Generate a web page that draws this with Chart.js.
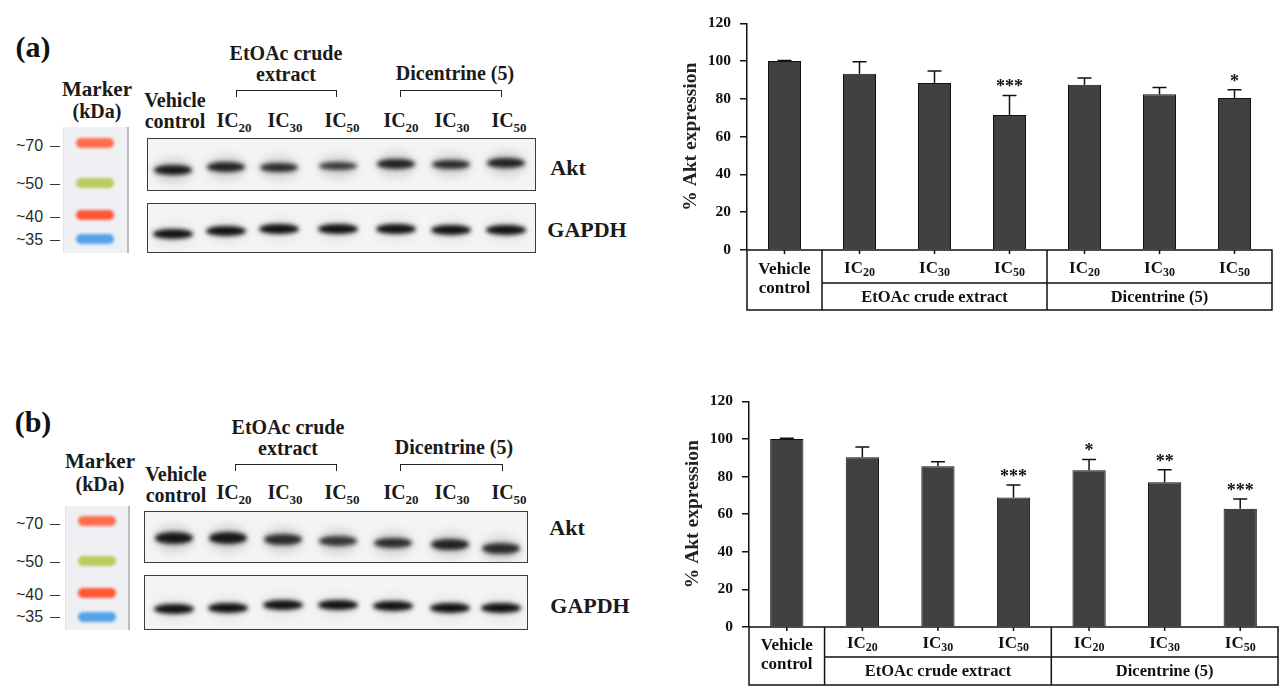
<!DOCTYPE html>
<html>
<head>
<meta charset="utf-8">
<script src="https://cdn.jsdelivr.net/npm/chart.js@4.4.0/dist/chart.umd.min.js"></script>
<style>
  body { margin: 0; width: 1286px; height: 698px; position: relative; overflow: hidden; background: #fff;
         font-family: "Liberation Serif", "DejaVu Serif", serif; color: #1a1a1a; }
  .t { position: absolute; transform: translate(-50%, -50%); white-space: nowrap; line-height: 1; font-weight: bold; }
  .t sub { font-size: 13px; vertical-align: -5px; line-height: 0; }
  .kd { position: absolute; transform: translate(0, -50%); font-family: "Liberation Sans", Arial, sans-serif;
        font-size: 16px; line-height: 1; color: #2a2a2a; }
  .box { position: absolute; border: 1.5px solid #3c3c3c; box-sizing: border-box; overflow: hidden; background: #f4f4f4; }
  .band { position: absolute; border-radius: 50%; }
  .strip { position: absolute; background: #eef0f4; border-right: 2px solid #b9bdc3; border-left: 1px solid #e2e4e8; box-sizing: border-box; }
  .mk { position: absolute; border-radius: 5px; filter: blur(1.6px); }
  .brk { position: absolute; border: 1.4px solid #222; border-bottom: none; box-sizing: border-box; }
  .dash { position: absolute; height: 1.4px; background: #333; }
  canvas { position: absolute; }
</style>
</head>
<body>
<canvas id="chartA" width="600" height="310" style="left:677px; top:5px;"></canvas>
<canvas id="chartB" width="604" height="307" style="left:679px; top:383px;"></canvas>
<script>
// ---- datos ----
const controlLabel = ["Vehicle", "control"];
const groups = ["EtOAc crude extract", "Dicentrine (5)"];
const doses = ["20", "30", "50"];
const categories = ["Vehicle control", "IC20", "IC30", "IC50", "IC20", "IC30", "IC50"];
const yTicks = [0, 20, 40, 60, 80, 100, 120];

// panel (a)
const aktA = [100, 93.3, 88.4, 71.5, 87.5, 82.5, 80.5];
const errA = [0.3, 6.4, 6.3, 10.3, 3.6, 3.5, 4.3];
const starsA = ["", "", "", "***", "", "", "*"];
// panel (b)
const aktB = [100, 90.2, 85.5, 68.8, 83.3, 76.9, 62.9];
const errB = [0.3, 5.5, 2.3, 6.7, 5.8, 6.7, 5.2];
const starsB = ["", "", "", "***", "*", "**", "***"];

const markerKDa = ["~70", "~50", "~40", "~35"];
const markerColors = ["#ff6c4e", "#b9cc5c", "#ff5634", "#55a2e8"];

const serif = '"Liberation Serif", "DejaVu Serif", serif';

// ---- Blot (imagen ilustrativa) ----
function txt(s, x, y, size, extra) {
  const d = document.createElement("div");
  d.className = "t";
  d.innerHTML = s;
  d.style.left = x + "px";
  d.style.top = y + "px";
  d.style.fontSize = size + "px";
  if (extra) Object.assign(d.style, extra);
  document.body.appendChild(d);
  return d;
}
function el(cls, x, y, w, h, parent) {
  const d = document.createElement("div");
  d.className = cls;
  Object.assign(d.style, { left: x + "px", top: y + "px", width: w + "px", height: h + "px" });
  (parent || document.body).appendChild(d);
  return d;
}
function band(box, org, cx, cy, w, h, strength, smear) {
  const bx = org[0], by = org[1];
  // halo claro
  const halo = el("band", cx - bx - w / 2 - 1, cy - by - h / 2 - 7, w + 2, h + 15, box);
  halo.style.background = "rgba(0,0,0," + (0.13 * smear) + ")";
  halo.style.filter = "blur(4px)";
  const core = el("band", cx - bx - w / 2, cy - by - h / 2, w, h, box);
  core.style.background = "rgba(14,14,14," + strength + ")";
  core.style.borderRadius = "45% / 50%";
  core.style.filter = "blur(2.2px)";
}

function panel(p) {
  txt(p.letter, p.letterPos[0], p.letterPos[1], 30, { color: "#111" });
  txt("Marker", p.marker[0], p.marker[1], 21);
  txt("(kDa)", p.marker[0], p.marker[1] + p.kdaGap, 20);
  el("strip", p.strip[0], p.strip[1], p.strip[2], p.strip[3]);
  markerKDa.forEach((k, i) => {
    const m = el("mk", p.strip[0] + 13, p.mkY[i] - 5, 38, 10);
    m.style.background = markerColors[i];
    const d = document.createElement("div");
    d.className = "kd";
    d.textContent = k;
    d.style.left = "16px";
    d.style.top = p.mkLabelY[i] + "px";
    document.body.appendChild(d);
    el("dash", 50, p.mkLabelY[i] - 0.5, 10, 1.4);
  });
  txt("EtOAc crude", p.hdr1[0], p.hdr1[1], 20);
  txt("extract", p.hdr1[0], p.hdr1[1] + 21, 20);
  txt(groups[1], p.hdr2[0], p.hdr2[1], 20);
  p.brackets.forEach(b => el("brk", b[0], p.brkY, b[1] - b[0], 7));
  txt(controlLabel[0], p.veh[0], p.veh[1], 20);
  txt(controlLabel[1], p.veh[0], p.veh[1] + 21, 20);
  p.icX.forEach((x, i) => txt("IC<sub>" + doses[i % 3] + "</sub>", x, p.icY, 20));
  const a = el("box", p.aktBox[0], p.aktBox[1], p.aktBox[2], p.aktBox[3]);
  const g = el("box", p.gBox[0], p.gBox[1], p.gBox[2], p.gBox[3]);
  p.laneX.forEach((x, i) => {
    band(a, p.aktBox, x, p.aktY[i], 38, p.aktH[i], p.aktS[i], 1);
    band(g, p.gBox, x, p.gY[i], 40, 10, 0.98, 0.4);
  });
  txt("Akt", p.aktLbl[0], p.aktLbl[1], 22);
  txt("GAPDH", p.gLbl[0], p.gLbl[1], 22);
}

panel({
  letter: "(a)", letterPos: [33, 47], marker: [97, 89], kdaGap: 22,
  strip: [63, 127, 66, 126], mkY: [143, 183, 215, 239], mkLabelY: [146, 184, 217, 240],
  hdr1: [286, 53], hdr2: [455, 73], brkY: 90, brackets: [[236, 337], [400, 502]],
  veh: [175, 100], icX: [234, 285, 342, 401, 452, 509], icY: 120,
  aktBox: [147, 138, 389, 53], gBox: [147, 203, 389, 50],
  laneX: [172, 225, 278, 337, 395, 450, 505],
  aktY: [169, 166, 166, 165, 163, 163, 162], aktH: [10, 10, 9, 8, 10, 9, 10],
  aktS: [0.95, 0.9, 0.85, 0.78, 0.9, 0.85, 0.9],
  gY: [233, 230, 228, 228, 228, 229, 229],
  aktLbl: [568, 168], gLbl: [587, 230]
});
panel({
  letter: "(b)", letterPos: [33, 422], marker: [100, 461], kdaGap: 23,
  strip: [65, 506, 65, 124], mkY: [521, 561, 593, 617], mkLabelY: [524, 562, 595, 617],
  hdr1: [288, 427], hdr2: [454, 447], brkY: 464, brackets: [[235, 337], [400, 503]],
  veh: [176, 474], icX: [234, 285, 342, 401, 452, 509], icY: 492,
  aktBox: [144, 511, 384, 52], gBox: [144, 575, 384, 55],
  laneX: [173, 227, 282, 337, 392, 449, 500],
  aktY: [537, 537, 538, 540, 542, 543, 547], aktH: [12, 12, 11, 10, 10, 11, 11],
  aktS: [0.95, 0.95, 0.85, 0.8, 0.85, 0.9, 0.85],
  gY: [608, 607, 604, 604, 605, 607, 607],
  aktLbl: [567, 528], gLbl: [590, 606]
});

// ---- Charts ----
// Tabla bajo el eje x
const tablePlugin = {
  id: "tabla",
  afterDraw(chart, args, opts) {
    const { ctx, chartArea: a, scales: { x } } = chart;
    const step = x.getPixelForValue(1) - x.getPixelForValue(0);
    const edge = i => x.getPixelForValue(i) - step / 2;
    const n = categories.length;
    const top = a.bottom, mid = a.bottom + opts.row1, bot = a.bottom + opts.height;
    ctx.save();
    ctx.strokeStyle = "#111";
    ctx.lineWidth = 1.5;
    ctx.beginPath();
    ctx.rect(edge(0), top, edge(n) - edge(0), bot - top);
    [1, 4].forEach(i => { ctx.moveTo(edge(i), top); ctx.lineTo(edge(i), bot); });
    ctx.moveTo(edge(1), mid); ctx.lineTo(edge(n), mid);
    // marcas del eje x
    for (let i = 0; i < n; i++) {
      const cx = x.getPixelForValue(i);
      ctx.moveTo(cx, top); ctx.lineTo(cx, top + 4);
    }
    ctx.stroke();

    ctx.fillStyle = "#111";
    ctx.textAlign = "center";
    ctx.textBaseline = "middle";
    ctx.font = "bold 17px " + serif;
    const vx = x.getPixelForValue(0);
    ctx.fillText(controlLabel[0], vx, top + opts.height / 2 - 10);
    ctx.fillText(controlLabel[1], vx, top + opts.height / 2 + 9);

    // IC con subíndice
    for (let i = 1; i < n; i++) {
      const cx = x.getPixelForValue(i);
      const cy = (top + mid) / 2 + 6;
      ctx.textAlign = "left";
      ctx.textBaseline = "alphabetic";
      ctx.font = "bold 17px " + serif;
      const w1 = ctx.measureText("IC").width;
      ctx.font = "bold 12px " + serif;
      const sub = doses[(i - 1) % 3];
      const w2 = ctx.measureText(sub).width;
      const x0 = cx - (w1 + w2) / 2;
      ctx.font = "bold 17px " + serif;
      ctx.fillText("IC", x0, cy);
      ctx.font = "bold 12px " + serif;
      ctx.fillText(sub, x0 + w1, cy + 3);
    }
    ctx.textAlign = "center";
    ctx.textBaseline = "middle";
    ctx.font = "bold 16.5px " + serif;
    ctx.fillText(groups[0], (edge(1) + edge(4)) / 2, (mid + bot) / 2 + 1);
    ctx.fillText(groups[1], (edge(4) + edge(n)) / 2, (mid + bot) / 2 + 1);
    ctx.restore();
  }
};

// Barras de error y asteriscos
const errorPlugin = {
  id: "errores",
  afterDatasetsDraw(chart, args, opts) {
    const { ctx, scales: { y } } = chart;
    const values = chart.data.datasets[0].data;
    ctx.save();
    ctx.strokeStyle = "#111";
    ctx.lineWidth = 1.5;
    ctx.fillStyle = "#111";
    ctx.textAlign = "center";
    ctx.textBaseline = "alphabetic";
    ctx.font = "bold 18px " + serif;
    chart.getDatasetMeta(0).data.forEach((bar, i) => {
      const yt = y.getPixelForValue(values[i] + opts.errors[i]);
      ctx.beginPath();
      ctx.moveTo(bar.x, bar.y);
      ctx.lineTo(bar.x, yt);
      ctx.moveTo(bar.x - 7, yt);
      ctx.lineTo(bar.x + 7, yt);
      ctx.stroke();
      if (opts.stars[i]) ctx.fillText(opts.stars[i], bar.x, yt - 3);
    });
    ctx.restore();
  }
};

function makeChart(id, values, errors, stars, tableH, row1) {
  return new Chart(document.getElementById(id), {
    type: "bar",
    data: {
      labels: categories,
      datasets: [{
        data: values,
        backgroundColor: "#404040",
        borderColor: "#111",
        borderWidth: 1,
        barPercentage: 0.44,
        categoryPercentage: 1
      }]
    },
    options: {
      responsive: false,
      animation: false,
      layout: { padding: { top: 12, right: 5, bottom: 5, left: 0 } },
      plugins: {
        legend: { display: false },
        tooltip: { enabled: false },
        tabla: { height: tableH, row1: row1 },
        errores: { errors: errors, stars: stars }
      },
      scales: {
        x: {
          grid: { display: false },
          border: { display: false },
          ticks: { display: false },
          afterFit: s => { s.height = tableH; }
        },
        y: {
          min: 0,
          max: 120,
          afterBuildTicks: s => { s.ticks = yTicks.map(v => ({ value: v })); },
          ticks: { color: "#111", padding: 9, font: { family: serif, size: 15.5, weight: "bold" } },
          grid: { drawOnChartArea: false, tickLength: 7, color: "#111", lineWidth: 1.5 },
          border: { color: "#111", width: 1.5 },
          title: {
            display: true,
            text: "% Akt expression",
            color: "#222",
            padding: { top: 2, bottom: 0 },
            font: { family: serif, size: 19.5, weight: "bold" }
          },
          afterFit: s => { s.width = 70; }
        }
      }
    },
    plugins: [tablePlugin, errorPlugin]
  });
}

makeChart("chartA", aktA, errA, starsA, 60, 33);
makeChart("chartB", aktB, errB, starsB, 58, 30);
</script>
</body>
</html>
